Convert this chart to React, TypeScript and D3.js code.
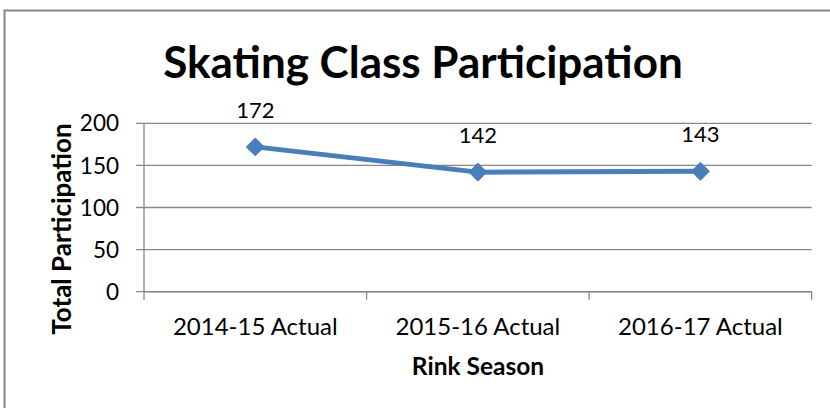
import React from "react";
import * as d3 from "d3";

const categories = ["2014-15 Actual", "2015-16 Actual", "2016-17 Actual"];
const values = [172, 142, 143];
const yTicks = [0, 50, 100, 150, 200];
const title = "Skating Class Participation";
const yTitle = "Total Participation";
const xTitle = "Rink Season";

const W = 830;
const H = 408;
const FONT = "Lato, 'Open Sans', sans-serif";

export default function App() {
  const left = 144;
  const right = 811.7;
  const top = 123.3;
  const bottom = 291.7;

  const x = d3.scaleBand<string>().domain(categories).range([left, right]).padding(0);
  const y = d3.scaleLinear().domain([0, 200]).range([bottom, top]);

  const line = d3
    .line<number>()
    .x((_, i) => (x(categories[i]) as number) + x.bandwidth() / 2)
    .y((d) => y(d));

  const tickEdges = [...categories.map((c) => x(c) as number), right];
  const blue = "#4A7EBB";
  const grid = "#878787";
  const dm = 9;

  return (
    <svg
      width={W}
      height={H}
      style={{ position: "absolute", left: 0, top: 0, background: "#fff" }}
      fontFamily={FONT}
    >
      <rect x={0} y={0} width={W} height={H} fill="#fff" />
      <rect x={4.5} y={10.5} width={838} height={420} fill="none" stroke="#868686" strokeWidth={2} />
      <text x={423} y={78} textAnchor="middle" fontSize={44} fontWeight={700} fill="#000">
        {title}
      </text>

      {yTicks.map((t) => (
        <g key={t}>
          <line x1={left - 8} x2={right} y1={y(t)} y2={y(t)} stroke={grid} strokeWidth={1.3} />
          <text x={119} y={y(t)} dy="0.36em" textAnchor="end" fontSize={22.5} fill="#000">
            {t}
          </text>
        </g>
      ))}
      <line x1={left} x2={left} y1={top} y2={bottom} stroke={grid} strokeWidth={1.3} />
      <line x1={left} x2={right} y1={bottom} y2={bottom} stroke={grid} strokeWidth={1.6} />
      {tickEdges.map((e, i) => (
        <line key={i} x1={e} x2={e} y1={bottom} y2={bottom + 8} stroke={grid} strokeWidth={1.3} />
      ))}

      {categories.map((c) => (
        <text
          key={c}
          x={(x(c) as number) + x.bandwidth() / 2}
          y={335}
          textAnchor="middle"
          fontSize={24}
          fill="#000"
        >
          {c}
        </text>
      ))}

      <path d={line(values) || ""} fill="none" stroke={blue} strokeWidth={5} strokeLinejoin="round" />
      {values.map((v, i) => {
        const cx = (x(categories[i]) as number) + x.bandwidth() / 2;
        const cy = y(v);
        return (
          <g key={i}>
            <path
              d={`M${cx},${cy - dm}L${cx + dm},${cy}L${cx},${cy + dm}L${cx - dm},${cy}Z`}
              fill={blue}
              stroke={blue}
              strokeWidth={1}
            />
            <text x={cx} y={cy - 29} textAnchor="middle" fontSize={22} fill="#000">
              {v}
            </text>
          </g>
        );
      })}

      <text
        transform={`translate(71, 229) rotate(-90)`}
        textAnchor="middle"
        fontSize={26}
        fontWeight={700}
        fill="#000"
      >
        {yTitle}
      </text>
      <text x={478} y={375} textAnchor="middle" fontSize={24.5} fontWeight={700} fill="#000">
        {xTitle}
      </text>
    </svg>
  );
}
